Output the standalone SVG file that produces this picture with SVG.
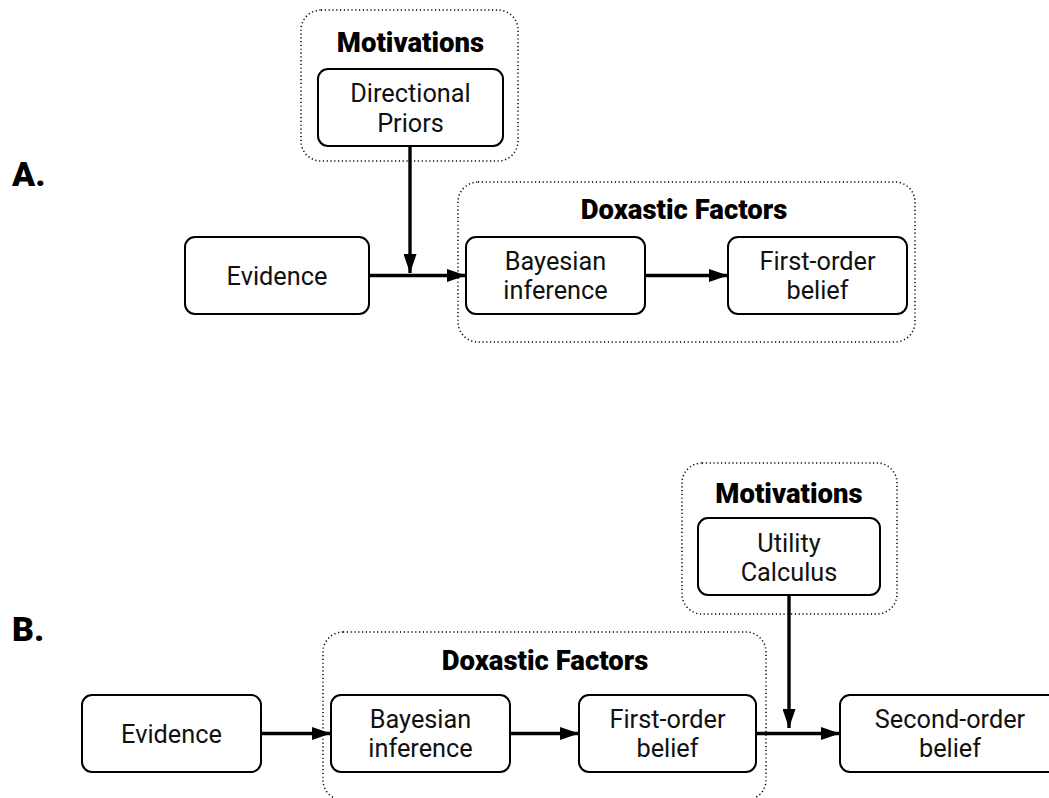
<svg xmlns="http://www.w3.org/2000/svg" width="1049" height="798" viewBox="0 0 1049 798">
<style>
.bg{fill:#fff}
.box{fill:#fff;stroke:#000;stroke-width:2}
.grp{fill:none;stroke:#000;stroke-width:1.5;stroke-dasharray:1.2 2.6}
.t{font-family:Roboto,"Liberation Sans",sans-serif;font-size:25.3px;text-anchor:middle;fill:#111}
.h{font-family:Roboto,"Liberation Sans",sans-serif;font-size:27.5px;font-weight:900;text-anchor:middle;fill:#000}
.lbl{font-family:Roboto,"Liberation Sans",sans-serif;font-size:34px;font-weight:900;fill:#000}
.edge{stroke:#000;stroke-width:3.4;fill:none;marker-end:url(#arr)}
</style>
<defs>
<marker id="arr" markerUnits="userSpaceOnUse" markerWidth="19" markerHeight="13" refX="19" refY="6.5" orient="auto">
<path d="M0,0 L19,6.5 L0,13 Z" fill="#000"/>
</marker>
</defs>
<rect class="bg" x="0" y="0" width="1049" height="798"/>
<text class="lbl" x="12" y="186">A.</text>
<text class="lbl" x="12" y="641">B.</text>

<g id="groupA-motivations">
<rect class="grp" x="301" y="10" width="217" height="151" rx="20"/>
<text class="h" x="410.5" y="52">Motivations</text>
</g>
<g id="groupA-doxastic">
<rect class="grp" x="458" y="182" width="457" height="160" rx="20"/>
<text class="h" x="684" y="219">Doxastic Factors</text>
</g>
<g id="groupB-motivations">
<rect class="grp" x="682" y="463" width="215" height="151" rx="20"/>
<text class="h" x="789" y="503">Motivations</text>
</g>
<g id="groupB-doxastic">
<rect class="grp" x="323" y="632" width="443" height="168" rx="20"/>
<text class="h" x="545" y="670">Doxastic Factors</text>
</g>

<g id="connectors">
<line class="edge" x1="369" y1="275.5" x2="466" y2="275.5"/>
<line class="edge" x1="410" y1="146" x2="410" y2="273"/>
<line class="edge" x1="645" y1="275.5" x2="728" y2="275.5"/>
<line class="edge" x1="261" y1="733.5" x2="331" y2="733.5"/>
<line class="edge" x1="510" y1="733.5" x2="579" y2="733.5"/>
<line class="edge" x1="756" y1="733.5" x2="840" y2="733.5"/>
<line class="edge" x1="789" y1="595" x2="789" y2="728"/>
</g>

<g id="nodeA-priors">
<rect class="box" x="318" y="69" width="185" height="77" rx="10"/>
<text class="t" x="410.5" y="102">Directional</text>
<text class="t" x="410.5" y="132">Priors</text>
</g>
<g id="nodeA-evidence">
<rect class="box" x="185" y="237" width="184" height="77" rx="10"/>
<text class="t" x="277" y="285">Evidence</text>
</g>
<g id="nodeA-bayes">
<rect class="box" x="466" y="237" width="179" height="77" rx="10"/>
<text class="t" x="555.5" y="270">Bayesian</text>
<text class="t" x="555.5" y="299">inference</text>
</g>
<g id="nodeA-first">
<rect class="box" x="728" y="237" width="179" height="77" rx="10"/>
<text class="t" x="817.5" y="270">First-order</text>
<text class="t" x="817.5" y="299">belief</text>
</g>

<g id="nodeB-utility">
<rect class="box" x="698" y="518" width="182" height="77" rx="10"/>
<text class="t" x="789" y="552">Utility</text>
<text class="t" x="789" y="581">Calculus</text>
</g>
<g id="nodeB-evidence">
<rect class="box" x="82" y="695" width="179" height="77" rx="10"/>
<text class="t" x="171.5" y="743">Evidence</text>
</g>
<g id="nodeB-bayes">
<rect class="box" x="331" y="695" width="179" height="77" rx="10"/>
<text class="t" x="420.5" y="728">Bayesian</text>
<text class="t" x="420.5" y="757">inference</text>
</g>
<g id="nodeB-first">
<rect class="box" x="579" y="695" width="177" height="77" rx="10"/>
<text class="t" x="667.5" y="728">First-order</text>
<text class="t" x="667.5" y="757">belief</text>
</g>
<g id="nodeB-second">
<rect class="box" x="840" y="695" width="220" height="77" rx="10"/>
<text class="t" x="950" y="728">Second-order</text>
<text class="t" x="950" y="757">belief</text>
</g>
</svg>
